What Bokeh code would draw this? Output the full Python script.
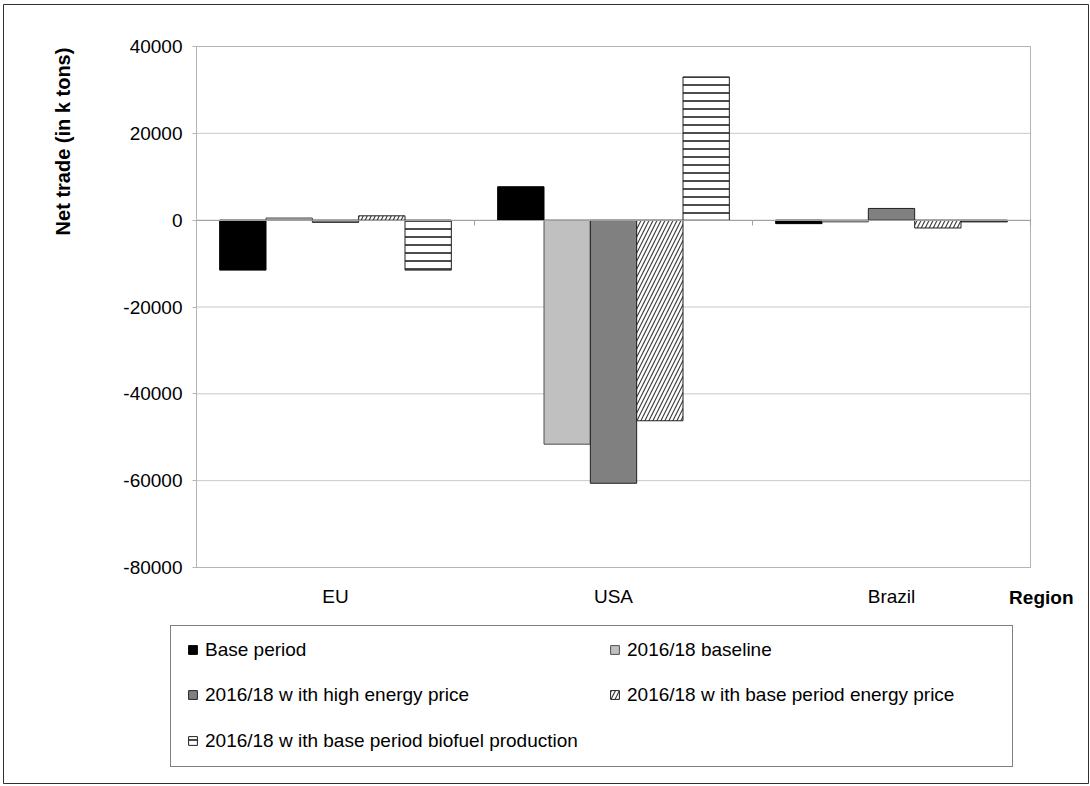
import math

from bokeh.plotting import figure
from bokeh.models import (ColumnDataSource, Range1d, FixedTicker, LinearAxis,
                          Legend, LegendItem, Label)
from bokeh.transform import dodge
from bokeh.embed import file_html
from bokeh.resources import INLINE

# Net trade by region and scenario (k tons)
regions = ["EU", "USA", "Brazil"]
base_period = [-11500, 7700, -800]
baseline_2016 = [500, -51600, -400]
high_energy = [-500, -60600, 2700]
base_energy_price = [1000, -46200, -1800]
base_biofuel = [-11500, 33000, -400]

series_labels = [
    "Base period",
    "2016/18 baseline",
    "2016/18 w ith high energy price",
    "2016/18 w ith base period energy price",
    "2016/18 w ith base period biofuel production",
]
y_ticks = [-80000, -60000, -40000, -20000, 0, 20000, 40000]

FONT = "Liberation Sans"

# page layout in pixels
W, H = 1090, 786
OUT_L, OUT_T, OUT_R, OUT_B = 3, 4, 1088, 783        # outer chart border
AREA_L, AREA_T, AREA_R, AREA_B = 196, 46, 1030, 567  # plot area

n = len(regions)
y_min, y_max = min(y_ticks), max(y_ticks)

# the frame spans the whole bordered chart; the ranges are widened so that
# the plot area lands where it should
px_x = (AREA_R - AREA_L) / n
px_y = (AREA_B - AREA_T) / (y_max - y_min)
x_range = Range1d(-(AREA_L - OUT_L) / px_x, n + (OUT_R - AREA_R) / px_x)
y_range = Range1d(y_min - (OUT_B - AREA_B) / px_y, y_max + (AREA_T - OUT_T) / px_y)

# each region occupies one unit on the x axis, centred on i + 0.5
centers = [i + 0.5 for i in range(n)]

source = ColumnDataSource(dict(
    pos=centers,
    s0=base_period,
    s1=baseline_2016,
    s2=high_energy,
    s3=base_energy_price,
    s4=base_biofuel,
))

p = figure(
    width=W, height=H, x_range=x_range, y_range=y_range,
    output_backend="svg", toolbar_location=None,
    min_border_left=OUT_L, min_border_right=W - OUT_R,
    min_border_top=OUT_T, min_border_bottom=H - OUT_B,
    x_axis_location=None, y_axis_location=None,
)
p.background_fill_color = "white"
p.border_fill_color = "white"
p.outline_line_color = "#303030"
p.outline_line_width = 1
p.xgrid.visible = False
p.ygrid.visible = False

# horizontal gridlines and plot-area border
p.segment(x0=0, x1=n, y0=y_ticks, y1=y_ticks, line_color="#c8c8c8",
          line_width=1, level="underlay")
p.quad(left=0, right=n, bottom=y_min, top=y_max, fill_alpha=0,
       line_color="#b4b4b4", line_width=1, level="underlay")

# value axis
yax = LinearAxis(fixed_location=0, bounds=(y_min, y_max),
                 ticker=FixedTicker(ticks=y_ticks),
                 major_label_overrides={t: str(t) for t in y_ticks})
yax.axis_line_color = "#b4b4b4"
yax.major_tick_line_color = "#b4b4b4"
yax.major_tick_out = 4
yax.major_tick_in = 0
yax.minor_tick_line_color = None
yax.major_label_standoff = 10
yax.major_label_text_font = FONT
yax.major_label_text_font_size = "19px"
yax.major_label_text_color = "black"
p.add_layout(yax, "left")

# region names under the plot area
xax = LinearAxis(fixed_location=y_min, ticker=FixedTicker(ticks=centers),
                 major_label_overrides={c: r for c, r in zip(centers, regions)})
xax.axis_line_color = None
xax.major_tick_line_color = None
xax.minor_tick_line_color = None
xax.major_label_standoff = 12
xax.major_label_text_font = FONT
xax.major_label_text_font_size = "19px"
xax.major_label_text_color = "black"
p.add_layout(xax, "below")

w = 1 / 6
offsets = [-2 * w, -w, 0, w, 2 * w]
styles = [
    dict(fill_color="black", line_color="black"),
    dict(fill_color="#c0c0c0", line_color="#505050"),
    dict(fill_color="#808080", line_color="#202020"),
    dict(fill_color="white", line_color="#202020",
         hatch_pattern="right_diagonal_line", hatch_color="#404040",
         hatch_weight=1.2, hatch_scale=8),
    dict(fill_color="white", line_color="#202020",
         hatch_pattern="horizontal_line", hatch_color="#202020",
         hatch_weight=1.6, hatch_scale=8),
]

renderers = []
for i, (off, st) in enumerate(zip(offsets, styles)):
    r = p.vbar(x=dodge("pos", off), top=f"s{i}", bottom=0,
               width=w, source=source, line_width=1, **st)
    renderers.append(r)

# category axis line at zero with separator ticks between regions
zax = LinearAxis(fixed_location=0, bounds=(0, n),
                 ticker=FixedTicker(ticks=list(range(n + 1))))
zax.axis_line_color = "#a0a0a0"
zax.major_tick_line_color = "#a0a0a0"
zax.major_tick_out = 5
zax.major_tick_in = 0
zax.minor_tick_line_color = None
zax.major_label_text_font_size = "0px"
zax.major_label_text_alpha = 0
p.add_layout(zax, "below")

items = [LegendItem(label=lab, renderers=[r]) for lab, r in zip(series_labels, renderers)]

# invisible renderer used by the legend frame
ghost = p.vbar(x=[], top=[], width=0.1, fill_alpha=0, line_alpha=0)

LEG_L, LEG_T, LEG_R, LEG_B = 170, 627, 1011, 767
legend_box = Legend(
    items=[LegendItem(label=" ", renderers=[ghost])],
    location=(LEG_L - OUT_L, OUT_B - LEG_B), padding=0, margin=0, spacing=0,
    glyph_width=1, glyph_height=1, label_standoff=0,
    label_width=LEG_R - LEG_L - 1, label_height=LEG_B - LEG_T,
    label_text_font_size="1px",
    border_line_color="black", border_line_width=1,
    background_fill_alpha=0,
)
p.add_layout(legend_box)

ROW_H = 21


def legend_row(row_items, center_y):
    return Legend(
        items=row_items,
        location=(187 - OUT_L, OUT_B - (center_y + ROW_H / 2)),
        orientation="horizontal",
        padding=0, margin=0, spacing=0,
        glyph_width=11, glyph_height=11, label_standoff=7,
        label_width=404, label_height=ROW_H,
        label_text_font=FONT, label_text_font_size="19px",
        label_text_color="black",
        border_line_color=None, background_fill_alpha=0,
    )


p.add_layout(legend_row(items[0:2], 650))
p.add_layout(legend_row(items[2:4], 695))
p.add_layout(legend_row(items[4:5], 741))

p.add_layout(Label(
    x=62 - OUT_L, y=OUT_B - 141, x_units="screen", y_units="screen",
    text="Net trade (in k tons)", angle=math.pi / 2,
    text_align="center", text_baseline="middle",
    text_font=FONT, text_font_size="20px", text_font_style="bold",
    text_color="black",
))
p.add_layout(Label(
    x=1073 - OUT_L, y=OUT_B - 597, x_units="screen", y_units="screen",
    text="Region", text_align="right", text_baseline="middle",
    text_font=FONT, text_font_size="19px", text_font_style="bold",
    text_color="black",
))

open("out.html", "w").write(file_html(p, INLINE))
